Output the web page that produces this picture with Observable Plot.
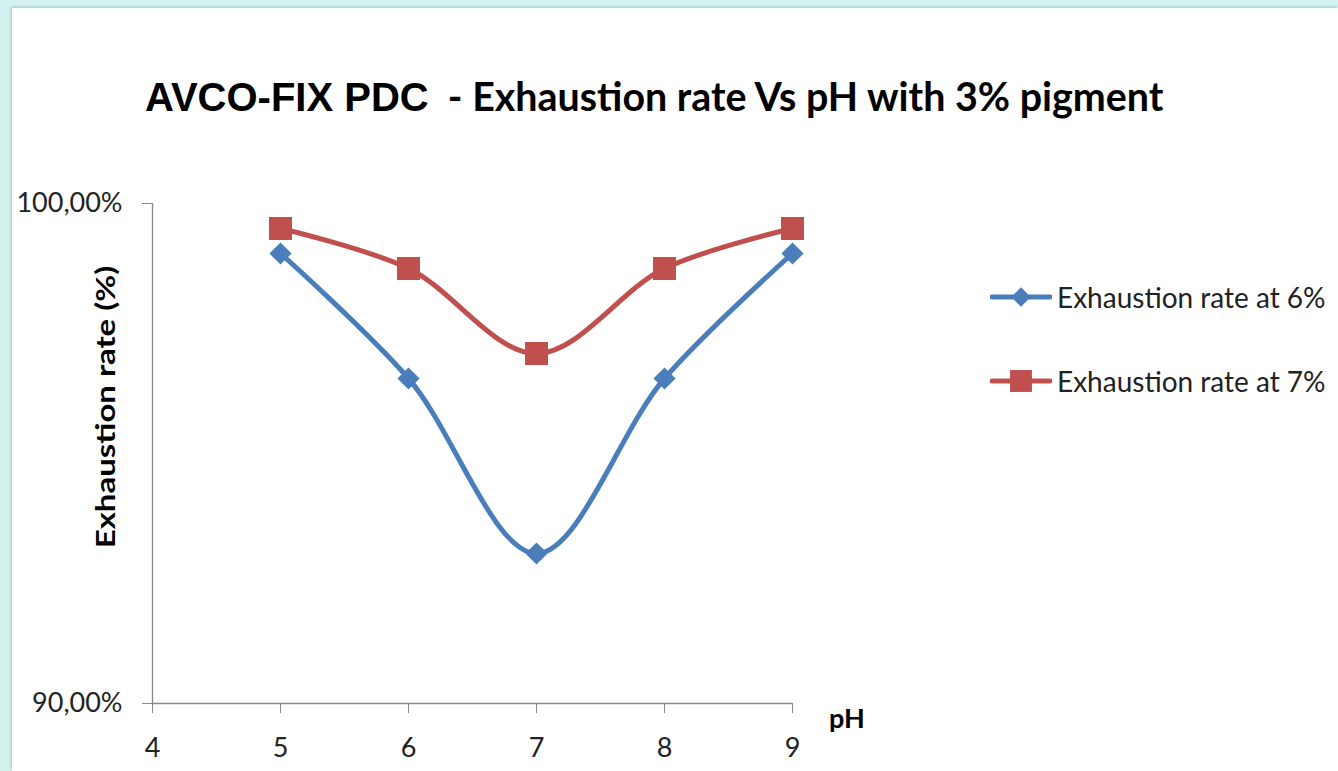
<!DOCTYPE html>
<html>
<head>
<meta charset="utf-8">
<script src="https://cdn.jsdelivr.net/npm/d3@7"></script>
<script src="https://cdn.jsdelivr.net/npm/@observablehq/plot@0.6"></script>
<style>
  html, body { margin: 0; padding: 0; width: 1338px; height: 771px; overflow: hidden; background: #d4f3f0; }
  #panel { position: absolute; left: 12px; top: 8px; width: 1326px; height: 763px; background: #ffffff; box-shadow: -1px -1px 3px rgba(120,170,170,0.6); }
  #title { position: absolute; left: 145px; top: 72px; white-space: nowrap; color: #000; }
  #title .a { font-family: "Liberation Sans", Arimo, Arial, sans-serif; font-weight: bold; font-size: 40px; }
  #title .b { font-family: Lato, sans-serif; font-weight: bold; font-size: 39.4px; }
  #chart { position: absolute; left: 0; top: 150px; }
  #ylab { position: absolute; left: 104px; top: 407px; transform: translate(-50%, -50%) rotate(-90deg) scaleX(1.22); font-family: Lato, sans-serif; font-weight: bold; font-size: 27px; color: #000; white-space: nowrap; }
  #xlab { position: absolute; left: 829px; top: 701px; font-family: Lato, sans-serif; font-weight: bold; font-size: 27px; color: #000; }
  .leg { position: absolute; left: 990px; height: 34px; display: flex; align-items: center; font-family: Lato, sans-serif; font-size: 28px; color: #222; white-space: nowrap; }
  .leg svg { margin-right: 5px; }
</style>
</head>
<body>
<div id="panel"></div>
<div id="title"><span class="a">AVCO-FIX PDC</span><span class="b">&nbsp; - Exhaustion rate Vs pH with 3% pigment</span></div>
<div id="chart"></div>
<div id="ylab">Exhaustion rate (%)</div>
<div id="xlab">pH</div>
<div id="legend"></div>
<script>
const ph = [5, 6, 7, 8, 9];
const rate6 = [99.0, 96.5, 93.0, 96.5, 99.0];
const rate7 = [99.5, 98.7, 97.0, 98.7, 99.5];
const seriesNames = ["Exhaustion rate at 6%", "Exhaustion rate at 7%"];
const seriesColors = ["#4a7ebb", "#c0504d"];
const seriesSymbols = ["diamond2", "square"];
const xTicks = [4, 5, 6, 7, 8, 9];
const yTicks = [90, 100];

const data = [
  ...ph.map((p, i) => ({ph: p, rate: rate6[i], series: seriesNames[0]})),
  ...ph.map((p, i) => ({ph: p, rate: rate7[i], series: seriesNames[1]}))
];
const fmt = d => d.toFixed(2).replace(".", ",") + "%";
const axisColor = "#888888";

const chart = Plot.plot({
  width: 1338,
  height: 621,
  marginLeft: 152,
  marginRight: 546,
  marginTop: 53,
  marginBottom: 68,
  style: { background: "transparent", fontFamily: "Lato, sans-serif", color: "#222", overflow: "visible" },
  x: { domain: [4, 9], axis: null },
  y: { domain: [90, 100], axis: null },
  color: { domain: seriesNames, range: seriesColors },
  symbol: { domain: seriesNames, range: seriesSymbols },
  marks: [
    Plot.ruleX([4], { y1: 90, y2: 100, stroke: axisColor, strokeWidth: 1.3 }),
    Plot.ruleY([90], { x1: 4, x2: 9, stroke: axisColor, strokeWidth: 1.3 }),
    Plot.axisY(yTicks, { anchor: "left", tickSize: 10, tickPadding: 20, tickFormat: fmt, fontSize: 27, stroke: axisColor, label: null }),
    Plot.axisX(xTicks, { anchor: "bottom", tickSize: 10, tickPadding: 24, tickFormat: d => String(d), fontSize: 27, stroke: axisColor, label: null }),
    Plot.line(data, { x: "ph", y: "rate", z: "series", stroke: "series", strokeWidth: 5, curve: "catmull-rom" }),
    Plot.dot(data.filter(d => d.series === seriesNames[0]), { x: "ph", y: "rate", symbol: "series", fill: "series", r: 10, stroke: null }),
    Plot.dot(data.filter(d => d.series === seriesNames[1]), { x: "ph", y: "rate", symbol: "series", fill: "series", r: 13, stroke: null })
  ]
});
document.getElementById("chart").appendChild(chart);

// legend
const legendTops = [280, 364];
const legend = document.getElementById("legend");
seriesNames.forEach((name, i) => {
  const div = document.createElement("div");
  div.className = "leg";
  div.style.top = legendTops[i] + "px";
  const svg = d3.create("svg").attr("width", 62).attr("height", 34);
  svg.append("line").attr("x1", 2).attr("x2", 60).attr("y1", 17).attr("y2", 17)
    .attr("stroke", seriesColors[i]).attr("stroke-width", 5).attr("stroke-linecap", "round");
  const sym = i === 0 ? d3.symbolDiamond2 : d3.symbolSquare;
  const size = i === 0 ? 240 : 480;
  svg.append("path").attr("d", d3.symbol(sym, size)()).attr("transform", "translate(31,17)").attr("fill", seriesColors[i]);
  div.appendChild(svg.node());
  const span = document.createElement("span");
  span.textContent = name;
  div.appendChild(span);
  legend.appendChild(div);
});
</script>
</body>
</html>
